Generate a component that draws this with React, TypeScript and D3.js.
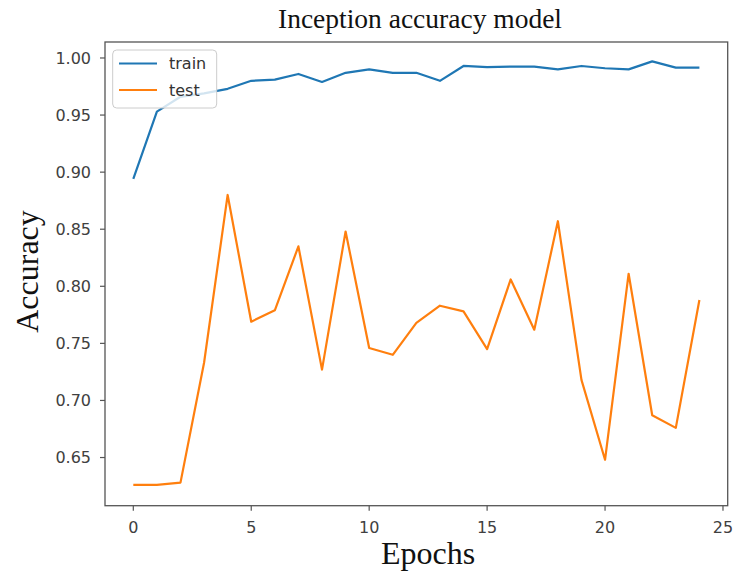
import React from "react";
import * as d3 from "d3";

const epochs = d3.range(0, 25);
const trainAcc = [0.894, 0.953, 0.966, 0.969, 0.973, 0.980, 0.981, 0.986, 0.979, 0.987, 0.990, 0.987, 0.987, 0.980, 0.993, 0.992, 0.9925, 0.9925, 0.990, 0.993, 0.991, 0.990, 0.997, 0.9915, 0.9915];
const testAcc = [0.626, 0.626, 0.628, 0.733, 0.880, 0.769, 0.779, 0.835, 0.727, 0.848, 0.746, 0.740, 0.768, 0.783, 0.778, 0.745, 0.806, 0.762, 0.857, 0.718, 0.648, 0.811, 0.687, 0.676, 0.788];
const xTicks = [0, 5, 10, 15, 20, 25];
const yTicks = [0.65, 0.7, 0.75, 0.8, 0.85, 0.9, 0.95, 1.0];
const seriesNames = ["train", "test"];
const seriesColors = ["#1f77b4", "#ff7f0e"];

const W = 735, H = 572;
const L = 105, R = 727.7, T = 42, B = 505.7;

export default function App() {
  const x = d3.scaleLinear().domain([-1.2, 25.2]).range([L, R]);
  const y = d3.scaleLinear().domain([0.6078, 1.014]).range([B, T]);
  const line = d3.line<number>().x((_, i) => x(epochs[i])).y((d) => y(d));
  const series = [trainAcc, testAcc];
  const tickColor = "#404040";
  const tickFont = "'DejaVu Sans', sans-serif";
  return (
    <svg width={W} height={H} style={{ position: "absolute", left: 0, top: 0, background: "#fff" }}>
      <rect x={0} y={0} width={W} height={H} fill="#fff" />
      <text x={420} y={27.5} textAnchor="middle" fontFamily="'Liberation Serif', serif" fontSize={27.5} fill="#111">
        Inception accuracy model
      </text>
      {series.map((s, i) => (
        <path key={i} d={line(s) || ""} fill="none" stroke={seriesColors[i]} strokeWidth={2.2} strokeLinejoin="round" />
      ))}
      <rect x={L} y={T} width={R - L} height={B - T} fill="none" stroke="#555" strokeWidth={1.3} />
      {yTicks.map((t) => (
        <g key={t}>
          <line x1={L - 5} x2={L} y1={y(t)} y2={y(t)} stroke="#555" strokeWidth={1.2} />
          <text x={L - 14} y={y(t)} dy="0.36em" textAnchor="end" fontFamily={tickFont} fontSize={16} fill={tickColor}>
            {d3.format(".2f")(t)}
          </text>
        </g>
      ))}
      {xTicks.map((t) => (
        <g key={t}>
          <line x1={x(t)} x2={x(t)} y1={B} y2={B + 5} stroke="#555" strokeWidth={1.2} />
          <text x={x(t)} y={B + 27} textAnchor="middle" fontFamily={tickFont} fontSize={16} fill={tickColor}>
            {t}
          </text>
        </g>
      ))}
      <text x={428} y={563.5} textAnchor="middle" fontFamily="'Liberation Serif', serif" fontSize={32} fill="#111">
        Epochs
      </text>
      <text transform={`translate(38,271.5) rotate(-90)`} textAnchor="middle" fontFamily="'Liberation Serif', serif" fontSize={32} fill="#111">
        Accuracy
      </text>
      <rect x={112.7} y={50} width={104} height={58} rx={4} fill="#fff" fillOpacity={0.8} stroke="#ccc" strokeWidth={1} />
      {seriesNames.map((n, i) => (
        <g key={n}>
          <line x1={119} x2={157} y1={63.5 + i * 26.5} y2={63.5 + i * 26.5} stroke={seriesColors[i]} strokeWidth={2.2} />
          <text x={169} y={63.5 + i * 26.5} dy="0.36em" fontFamily={tickFont} fontSize={16} fill="#333">
            {n}
          </text>
        </g>
      ))}
    </svg>
  );
}
